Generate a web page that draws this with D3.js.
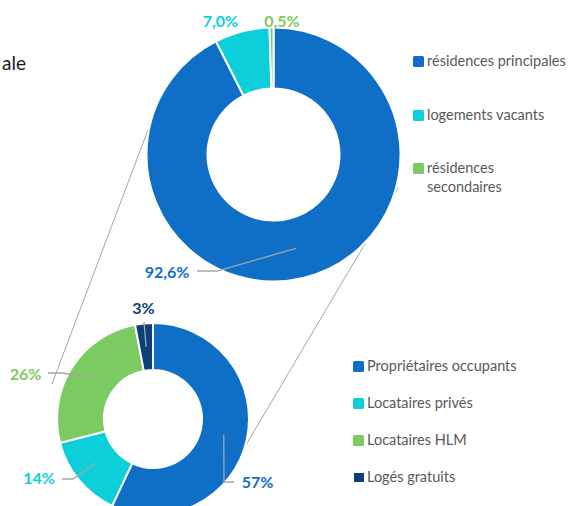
<!DOCTYPE html>
<html>
<head>
<meta charset="utf-8">
<script src="https://cdn.jsdelivr.net/npm/d3@7"></script>
<style>
  html, body { margin: 0; padding: 0; background: #fff; }
  svg { display: block; font-family: Lato, "Noto Sans", sans-serif; }
</style>
</head>
<body>
<div id="main"></div>
<script>
// top donut: statut des logements
const topCats = ["résidences principales", "logements vacants", "résidences secondaires"];
const topValues = [92.6, 7.0, 0.5];
const topLabels = ["92,6%", "7,0%", "0,5%"];
const topColors = ["#0F6FC6", "#0DCFDA", "#7CCA62"];

// bottom donut: occupation des résidences principales
const bottomCats = ["Propriétaires occupants", "Locataires privés", "Locataires HLM", "Logés gratuits"];
const bottomValues = [57, 14, 26, 3];
const bottomLabels = ["57%", "14%", "26%", "3%"];
const bottomColors = ["#0F6FC6", "#0DCFDA", "#7CCA62", "#0B4078"];

var width = 572, height = 506;

const svg = d3.select('#main')
    .append('svg')
    .attr('width', width)
    .attr('height', height)
    .attr('viewBox', [0, 0, width, height]);

// layout
var topC = {x: 273.5, y: 154.5, r: 127, r0: 66};
var botC = {x: 153, y: 419, r: 96, r0: 49};

var pie = d3.pie().sort(null).value(d => d);

// title (cut by the frame on the left)
svg.append('text')
    .attr('x', 26)
    .attr('y', 70)
    .attr('text-anchor', 'end')
    .attr('font-size', 19)
    .attr('fill', '#1a1a1a')
    .text('ale');

// connector lines between the two donuts (behind)
svg.append('path')
    .attr('d', d3.line()([[160, 98], [52, 384]]))
    .attr('stroke', '#a6a6a6')
    .attr('stroke-width', 1)
    .attr('fill', 'none');
svg.append('path')
    .attr('d', d3.line()([[398, 188], [240, 455]]))
    .attr('stroke', '#a6a6a6')
    .attr('stroke-width', 1)
    .attr('fill', 'none');

function donut(values, colors, c) {
    var arc = d3.arc().innerRadius(c.r0).outerRadius(c.r);
    var g = svg.append('g').attr('transform', `translate(${c.x},${c.y})`);
    var arcs = pie(values);
    g.selectAll('path')
        .data(arcs)
        .join('path')
        .attr('d', arc)
        .attr('fill', (d, i) => colors[i])
        .attr('stroke', '#fff')
        .attr('stroke-width', 2)
        .attr('stroke-linejoin', 'round');
    // centroids in page coordinates, used by leader lines
    return arcs.map(d => {
        var p = arc.centroid(d);
        return [p[0] + c.x, p[1] + c.y];
    });
}

var topCent = donut(topValues, topColors, topC);
var botCent = donut(bottomValues, bottomColors, botC);

// leader lines
var leaders = [
    [topCent[0], [217, 271], [197, 271]],
    [botCent[0], [224, 482], [234, 482]],
    [[96, 463], [73, 479], [62, 479]],
    [[93, 378], [62, 373], [48, 373]],
    [botCent[3], [144, 322]]
];
svg.selectAll('path.leader')
    .data(leaders)
    .join('path')
    .attr('class', 'leader')
    .attr('d', d => d3.line()(d))
    .attr('stroke', '#a6a6a6')
    .attr('stroke-width', 1.3)
    .attr('fill', 'none');

// data labels
var topLabelPos = [[167, 278], [220.5, 27], [282, 27]];
var botLabelPos = [[257.5, 488], [39, 484], [25.5, 380], [143.5, 314]];

function labels(texts, colors, pos) {
    svg.append('g')
        .selectAll('text')
        .data(texts)
        .join('text')
        .attr('x', (d, i) => pos[i][0])
        .attr('y', (d, i) => pos[i][1])
        .attr('text-anchor', 'middle')
        .attr('font-size', 16)
        .attr('font-weight', 'bold')
        .attr('fill', (d, i) => colors[i])
        .text(d => d);
}
labels(topLabels, topColors, topLabelPos);
labels(bottomLabels, bottomColors, botLabelPos);

// legends
function legend(cats, colors, x, ys, wrap) {
    var g = svg.append('g');
    cats.forEach((name, i) => {
        var small = i === 3;
        g.append('rect')
            .attr('x', small ? x + 1 : x)
            .attr('y', ys[i] - (small ? 9 : 10))
            .attr('width', small ? 10 : 11)
            .attr('height', small ? 9 : 11)
            .attr('rx', small ? 0 : 1.5)
            .attr('fill', colors[i]);
        var t = g.append('text')
            .attr('x', x + 14)
            .attr('y', ys[i])
            .attr('font-size', 14.5)
            .attr('fill', '#595959');
        var lines = wrap && wrap[i] ? wrap[i] : [name];
        lines.forEach((l, j) => {
            t.append('tspan')
                .attr('x', x + 14)
                .attr('dy', j === 0 ? 0 : 19)
                .text(l);
        });
    });
}
legend(topCats, topColors, 413, [66, 120, 173], {2: ["résidences", "secondaires"]});
legend(bottomCats, bottomColors, 353, [371, 408, 445, 482]);
</script>
</body>
</html>
